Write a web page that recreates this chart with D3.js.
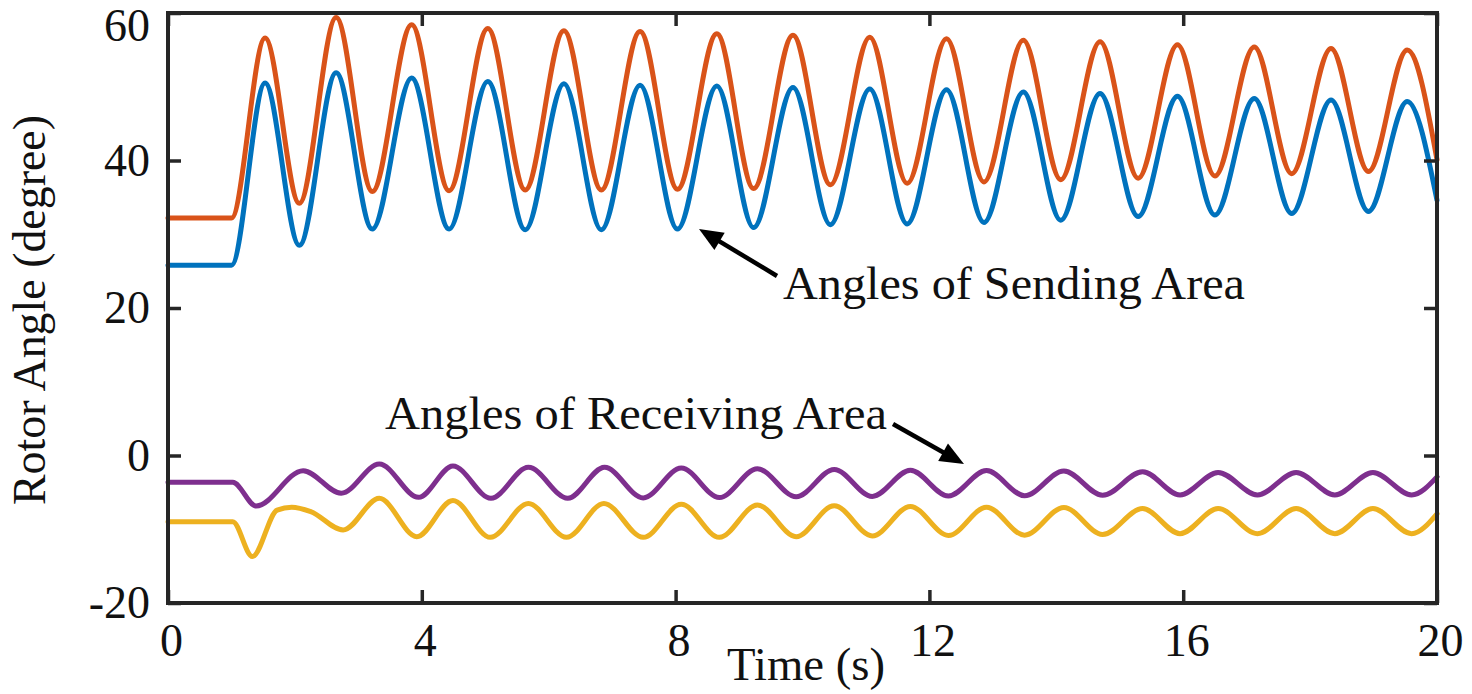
<!DOCTYPE html>
<html>
<head>
<meta charset="utf-8">
<script src="https://cdn.jsdelivr.net/npm/d3@7"></script>
<style>
  html, body { margin: 0; padding: 0; background: #fff; }
  svg { display: block; }
  text { font-family: "Liberation Serif", "Times New Roman", serif; fill: #111; }
</style>
</head>
<body>
<svg id="chart" width="1472" height="694"></svg>
<script>
// ---------------- data ----------------
const xTicks = [0, 4, 8, 12, 16, 20];
const yTicks = [-20, 0, 20, 40, 60];

// sending area: time of extremes (s)
const sendTime = [0, 1.0, 1.53, 2.07, 2.65, 3.22, 3.84, 4.43, 5.04, 5.63, 6.24, 6.83, 7.44, 8.03, 8.65, 9.23, 9.85,
  10.44, 11.06, 11.65, 12.27, 12.86, 13.48, 14.07, 14.69, 15.29, 15.91, 16.50, 17.12, 17.71, 18.33, 18.92, 19.53, 20];
const sendOrange = [32.2, 32.2, 56.6, 34.2, 59.4, 35.8, 58.4, 35.9, 57.9, 36.0, 57.6, 36.0, 57.5, 36.1, 57.2, 36.2, 57.0,
  36.7, 56.7, 36.9, 56.5, 37.1, 56.3, 37.4, 56.1, 37.6, 55.7, 37.9, 55.4, 38.2, 55.2, 38.5, 55.0, 40.1];
const sendBlue = [25.8, 25.8, 50.5, 28.5, 51.9, 30.7, 51.2, 30.7, 50.7, 30.6, 50.4, 30.6, 50.2, 30.7, 50.1, 30.9, 49.9,
  31.3, 49.7, 31.4, 49.6, 31.6, 49.3, 31.9, 49.1, 32.4, 48.7, 32.6, 48.4, 32.8, 48.2, 33.1, 48.0, 34.6];

// receiving area
const recvPurpleTime = [0, 1.02, 1.39, 2.13, 2.73, 3.33, 3.95, 4.49, 5.09, 5.68, 6.30, 6.88, 7.49, 8.09, 8.69, 9.29, 9.90,
  10.50, 11.10, 11.70, 12.30, 12.90, 13.50, 14.12, 14.73, 15.36, 15.95, 16.55, 17.17, 17.78, 18.39, 18.99, 19.60, 20];
const recvPurple = [-3.64, -3.64, -6.85, -2.06, -5.12, -1.15, -5.67, -1.42, -5.8, -1.6, -5.8, -1.6, -5.75, -1.7, -5.7, -1.8, -5.6,
  -1.9, -5.55, -2.0, -5.5, -2.05, -5.45, -2.1, -5.4, -2.2, -5.35, -2.3, -5.35, -2.3, -5.35, -2.3, -5.35, -2.9];
const recvYellowTime = [0, 1.02, 1.33, 1.72, 1.95, 2.25, 2.76, 3.33, 3.92, 4.49, 5.08, 5.68, 6.28, 6.87, 7.49, 8.09, 8.69, 9.29, 9.90,
  10.50, 11.10, 11.70, 12.30, 12.90, 13.50, 14.12, 14.73, 15.36, 15.95, 16.55, 17.17, 17.78, 18.39, 18.99, 19.60, 20];
const recvYellow = [-8.97, -8.97, -13.7, -7.4, -7.0, -7.6, -10.1, -5.8, -11.0, -6.1, -11.1, -6.5, -11.1, -6.5, -11.1, -6.6, -11.1, -6.7, -11.0,
  -6.8, -10.9, -6.9, -10.85, -7.0, -10.8, -7.05, -10.7, -7.2, -10.6, -7.2, -10.6, -7.2, -10.6, -7.2, -10.6, -7.9];

const series = [
  { t: recvYellowTime, v: recvYellow, color: "#EDB120" },
  { t: recvPurpleTime, v: recvPurple, color: "#7E2F8E" },
  { t: sendTime, v: sendBlue, color: "#0072BD" },
  { t: sendTime, v: sendOrange, color: "#D95319" }
];

// ---------------- layout ----------------
const svg = d3.select("#chart");
const L = 168, R = 1437, T = 13, B = 603;
const x = d3.scaleLinear().domain([0, 20]).range([L, R]);
const y = d3.scaleLinear().domain([-20, 60]).range([B, T]);
const axisColor = "#262626";

svg.append("rect").attr("width", 1472).attr("height", 694).attr("fill", "#fff");

const line = d3.line().x(d => x(d[0])).y(d => y(d[1])).curve(d3.curveMonotoneX);

svg.append("g").selectAll("path").data(series).join("path")
  .attr("d", s => line(s.t.map((t, i) => [t, s.v[i]])))
  .attr("fill", "none")
  .attr("stroke", s => s.color)
  .attr("stroke-width", 5)
  .attr("stroke-linejoin", "round")
  .attr("stroke-linecap", "round");

// axes (ticks inward, on all four sides)
function styleAxis(g) {
  g.select(".domain").remove();
  g.selectAll(".tick line").attr("stroke", axisColor).attr("stroke-width", 3.5);
  g.selectAll(".tick text").attr("fill", "#111").style("font-family", '"Liberation Serif", serif');
}
const fmt = d => String(d);
const gx = svg.append("g").attr("transform", `translate(0,${B})`)
  .call(d3.axisBottom(x).tickValues(xTicks).tickSizeInner(-13).tickSizeOuter(0).tickPadding(20).tickFormat(fmt));
styleAxis(gx);
gx.selectAll(".tick text").attr("font-size", 46).attr("dx", 3);

const gy = svg.append("g").attr("transform", `translate(${L},0)`)
  .call(d3.axisLeft(y).tickValues(yTicks).tickSizeInner(-13).tickSizeOuter(0).tickPadding(18).tickFormat(fmt));
styleAxis(gy);
gy.selectAll(".tick text").attr("font-size", 46)
  .attr("dy", d => d === 60 ? "0.6em" : "0.32em");

const gt = svg.append("g").attr("transform", `translate(0,${T})`)
  .call(d3.axisTop(x).tickValues(xTicks).tickSizeInner(-13).tickSizeOuter(0).tickFormat(""));
styleAxis(gt);
const gr = svg.append("g").attr("transform", `translate(${R},0)`)
  .call(d3.axisRight(y).tickValues(yTicks).tickSizeInner(-13).tickSizeOuter(0).tickFormat(""));
styleAxis(gr);

svg.append("rect").attr("x", L).attr("y", T).attr("width", R - L).attr("height", B - T)
  .attr("fill", "none").attr("stroke", axisColor).attr("stroke-width", 4);

// axis titles
svg.append("text").attr("x", 727).attr("y", 680).attr("font-size", 46)
  .attr("textLength", 158).attr("lengthAdjust", "spacingAndGlyphs").text("Time (s)");
svg.append("text").attr("transform", "translate(45,310) rotate(-90)").attr("text-anchor", "middle")
  .attr("font-size", 46).attr("textLength", 390).attr("lengthAdjust", "spacingAndGlyphs").text("Rotor Angle (degree)");

// annotations
svg.append("text").attr("x", 783).attr("y", 299).attr("font-size", 46)
  .attr("textLength", 462).attr("lengthAdjust", "spacingAndGlyphs").text("Angles of Sending Area");
svg.append("text").attr("x", 385).attr("y", 429).attr("font-size", 46)
  .attr("textLength", 502).attr("lengthAdjust", "spacingAndGlyphs").text("Angles of Receiving Area");

function arrow(x1, y1, x2, y2) {
  const ang = Math.atan2(y2 - y1, x2 - x1);
  const hl = 24, hw = 10;
  const bx = x2 - hl * Math.cos(ang), by = y2 - hl * Math.sin(ang);
  svg.append("line").attr("x1", x1).attr("y1", y1).attr("x2", bx + 4 * Math.cos(ang)).attr("y2", by + 4 * Math.sin(ang))
    .attr("stroke", "#000").attr("stroke-width", 4.5);
  const px = -Math.sin(ang), py = Math.cos(ang);
  svg.append("path")
    .attr("d", `M${x2},${y2}L${bx + hw * px},${by + hw * py}L${bx - hw * px},${by - hw * py}Z`)
    .attr("fill", "#000");
}
arrow(777, 276, 699, 229);
arrow(893, 424, 964, 464);
</script>
</body>
</html>
